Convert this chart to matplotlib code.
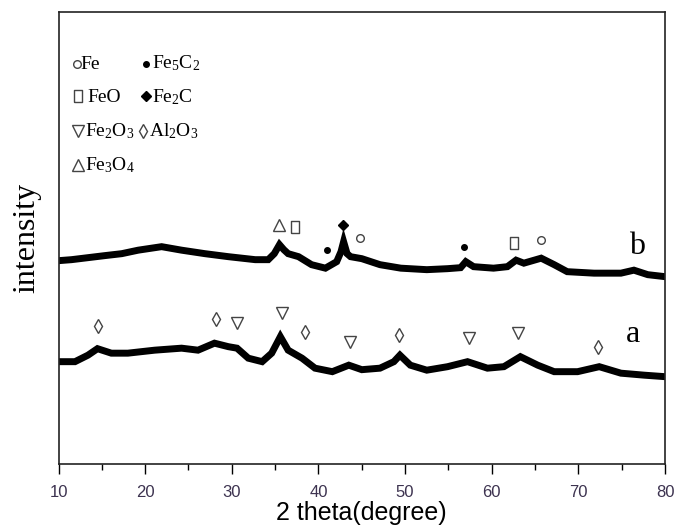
import matplotlib
matplotlib.use("Agg")
import matplotlib.pyplot as plt

plt.rcParams['mathtext.fontset'] = 'custom'
plt.rcParams['mathtext.rm'] = 'Liberation Serif'
plt.rcParams['mathtext.default'] = 'regular'

# curve b (upper pattern), 2 theta vs intensity (arb. units)
b_x = [10.0, 11.5, 13.4, 15.3, 17.3, 19.2, 21.9, 24.2, 26.9, 29.6, 32.7, 34.2, 34.9, 35.5, 36.0,
       36.5, 37.7, 39.2, 40.8, 42.1, 42.6, 42.9, 43.3, 43.7, 45.0, 47.1, 49.5, 52.5, 54.9, 56.4,
       57.0, 57.9, 60.2, 61.8, 62.8, 63.7, 65.7, 67.2, 68.7, 71.8, 74.9, 76.4, 78.0, 80.0]
b_y = [203, 204, 206, 208, 210, 213.5, 217, 213.5, 210, 207, 204, 204, 210, 219, 214,
       210, 207, 199, 195.5, 202, 212, 222, 210, 207, 205, 199, 195.5, 194, 195, 196,
       202, 197, 195.5, 197, 203.5, 200.5, 205.5, 199, 192, 190.5, 190.5, 193.5, 189, 187]

# curve a (lower pattern)
a_x = [10.0, 11.9, 13.4, 14.5, 16.1, 18.0, 21.1, 24.2, 26.1, 28.0, 29.6, 30.6, 31.9, 33.5, 34.6,
       35.6, 36.5, 38.1, 39.6, 41.6, 43.5, 45.0, 47.1, 48.7, 49.4, 50.6, 52.5, 54.9, 57.2, 59.5,
       61.4, 63.3, 65.3, 67.2, 69.9, 72.4, 74.9, 77.6, 80.0]
a_y = [102, 102, 108.5, 115, 110.5, 110.5, 113.5, 115.5, 113.5, 120.5, 117, 115.5, 105.5, 102, 110.5,
       127, 113.5, 105.5, 95.5, 92, 98.5, 94, 95.5, 102, 108.5, 98.5, 93.5, 97, 102, 95.5,
       97, 107, 98.5, 92, 92, 97, 90.5, 88.5, 87]

# phase markers on curve b
fe3o4_x, fe3o4_y = [35.5], [238.7]
feo_x, feo_y = [37.3, 62.6], [237, 220.4]
fe5c2_x, fe5c2_y = [41.0, 56.8], [213.7, 217]
fe2c_x, fe2c_y = [42.8], [238.7]
fe_x, fe_y = [44.8, 65.7], [225.4, 223.7]
# phase markers on curve a
al2o3_x, al2o3_y = [14.6, 28.2, 38.5, 49.3, 72.3], [138, 144.7, 132, 128.7, 117]
fe2o3_x, fe2o3_y = [30.6, 35.8, 43.6, 57.4, 63.0], [140.4, 150.4, 122, 125.4, 130.4]

rect = [(-0.35, -0.5), (0.35, -0.5), (0.35, 0.5), (-0.35, 0.5), (-0.35, -0.5)]
gray = '#444444'

fig = plt.figure(figsize=(6.74, 5.25), dpi=100)
ax = fig.add_axes([0.0868, 0.1168, 0.9, 0.861])

ax.plot(b_x, b_y, color='black', lw=5, solid_joinstyle='miter')
ax.plot(a_x, a_y, color='black', lw=5, solid_joinstyle='miter')

ax.plot(fe3o4_x, fe3o4_y, ls='none', marker='^', ms=8, mfc='none', mec=gray, mew=1)
ax.plot(feo_x, feo_y, ls='none', marker=rect, ms=9, mfc='none', mec=gray, mew=1)
ax.plot(fe5c2_x, fe5c2_y, ls='none', marker='o', ms=4, color='black')
ax.plot(fe2c_x, fe2c_y, ls='none', marker='D', ms=5.5, color='black')
ax.plot(fe_x, fe_y, ls='none', marker='o', ms=5.5, mfc='none', mec=gray, mew=1)
ax.plot(al2o3_x, al2o3_y, ls='none', marker='d', ms=7.5, mfc='none', mec=gray, mew=1)
ax.plot(fe2o3_x, fe2o3_y, ls='none', marker='v', ms=8.5, mfc='none', mec=gray, mew=1)

ax.text(76.8, 217, 'b', fontsize=23, family='Liberation Serif', ha='center', va='center')
ax.text(76.3, 128.7, 'a', fontsize=23, family='Liberation Serif', ha='center', va='center')

# legend block (upper left)
lg = dict(fontsize=14, family='Liberation Serif', va='baseline')
ax.plot(12.1, 400, ls='none', marker='o', ms=5.5, mfc='none', mec=gray, mew=1)
ax.text(12.55, 395, 'Fe', **lg)
ax.plot(20.1, 400, ls='none', marker='o', ms=4, color='black')
ax.text(20.8, 395, r'Fe$_5$C$_2$', **lg)
ax.plot(12.3, 368, ls='none', marker=rect, ms=9, mfc='none', mec=gray, mew=1)
ax.text(13.3, 361.5, 'FeO', **lg)
ax.plot(20.1, 368, ls='none', marker='D', ms=5.5, color='black')
ax.text(20.8, 361.5, r'Fe$_2$C', **lg)
ax.plot(12.25, 333, ls='none', marker='v', ms=8.5, mfc='none', mec=gray, mew=1)
ax.text(13.0, 327, r'Fe$_2$O$_3$', **lg)
ax.plot(19.8, 333, ls='none', marker='d', ms=7.5, mfc='none', mec=gray, mew=1)
ax.text(20.5, 327, r'Al$_2$O$_3$', **lg)
ax.plot(12.3, 299, ls='none', marker='^', ms=8, mfc='none', mec=gray, mew=1)
ax.text(13.1, 293, r'Fe$_3$O$_4$', **lg)

ax.set_xlim(10, 80)
ax.set_ylim(0, 452)
ax.set_xticks(range(10, 81, 10))
ax.set_xticks(range(15, 80, 10), minor=True)
ax.set_yticks([])
ax.tick_params(axis='x', which='major', direction='out', length=7, width=1, pad=8,
               labelsize=12, labelcolor='#3d3350')
ax.tick_params(axis='x', which='minor', direction='out', length=4.5, width=1)
for lab in ax.get_xticklabels():
    lab.set_family(['Liberation Sans Narrow', 'Liberation Sans'])
for s in ax.spines.values():
    s.set_linewidth(1.2)
    s.set_color('#222222')

ax.set_xlabel('2 theta(degree)', fontsize=18, family='Liberation Sans', labelpad=1)
ax.set_ylabel('intensity', fontsize=23, family='Liberation Serif', labelpad=12)

fig.savefig('out.png', dpi=100)
